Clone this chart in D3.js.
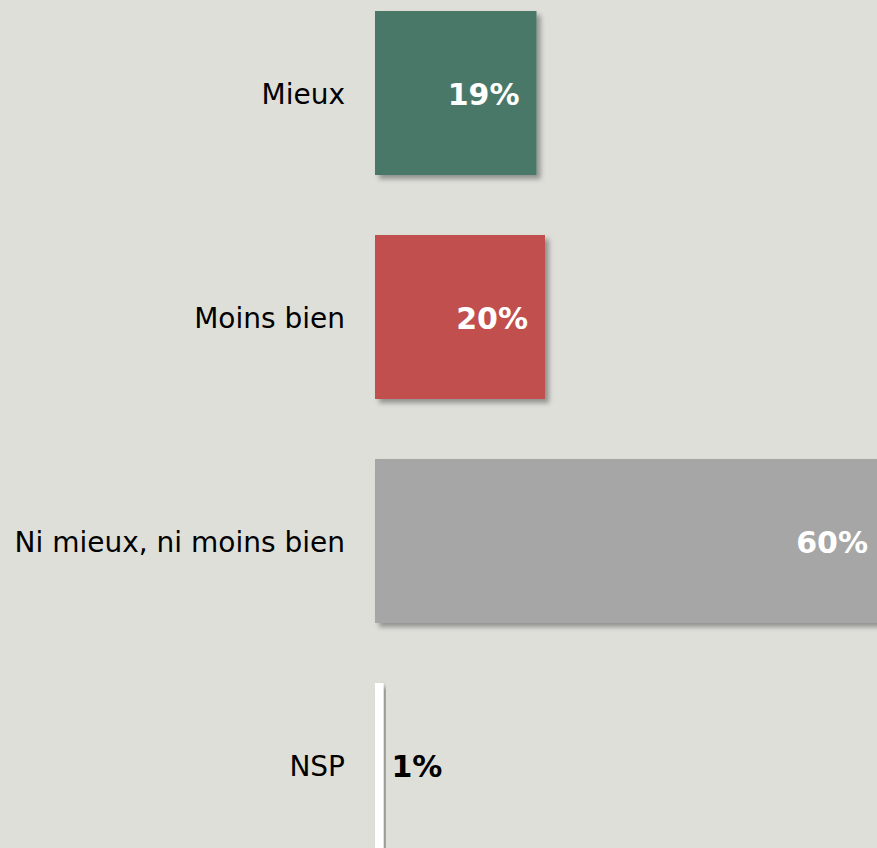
<!DOCTYPE html>
<html lang="fr">
<head>
  <meta charset="UTF-8">
  <title>Mieux / Moins bien</title>
  <script src="https://d3js.org/d3.v7.min.js"></script>
  <style>
    body {
      margin: 0;
      background: #dfdfda;
      overflow: hidden;
    }
    #chart {
      display: block;
    }
    .cat {
      font-family: Tahoma, "DejaVu Sans", sans-serif;
      font-size: 28px;
      fill: #000;
    }
    .val {
      font-family: Tahoma, "DejaVu Sans", sans-serif;
      font-size: 30px;
      font-weight: bold;
    }
  </style>
</head>
<body>
  <svg id="chart" width="877" height="848"></svg>

  <script>
    const categories = ["Mieux", "Moins bien", "Ni mieux, ni moins bien", "NSP"];
    const values = [19, 20, 60, 1];
    const barColors = ["#497869", "#c0504e", "#a6a6a6", "#ffffff"];
    const labelColors = ["#ffffff", "#ffffff", "#ffffff", "#000000"];

    const W = 877, H = 848;
    const svg = d3.select("#chart");

    svg.append("rect")
      .attr("width", W)
      .attr("height", H)
      .attr("fill", "#dfdfda");

    // drop shadow like the office chart
    const defs = svg.append("defs");
    const f = defs.append("filter")
      .attr("id", "shadow")
      .attr("x", "-10%").attr("y", "-10%")
      .attr("width", "130%").attr("height", "130%");
    f.append("feDropShadow")
      .attr("dx", 4).attr("dy", 4)
      .attr("stdDeviation", 2.5)
      .attr("flood-color", "#000")
      .attr("flood-opacity", 0.35);

    const x = d3.scaleLinear()
      .domain([0, 60])
      .range([375, 885]);

    const y = d3.scaleBand()
      .domain(categories)
      .range([-19, 877])
      .paddingInner(60 / 224)
      .paddingOuter(30 / 224);

    const data = categories.map((c, i) => ({ cat: c, v: values[i], color: barColors[i], lc: labelColors[i] }));

    // bars
    svg.selectAll(".bar")
      .data(data)
      .enter()
      .append("rect")
      .attr("class", "bar")
      .attr("x", x(0))
      .attr("y", d => y(d.cat))
      .attr("width", d => x(d.v) - x(0))
      .attr("height", d => d.v < 5 ? y.bandwidth() + 20 : y.bandwidth())
      .attr("fill", d => d.color)
      .attr("filter", "url(#shadow)");

    // category labels
    svg.selectAll(".cat")
      .data(data)
      .enter()
      .append("text")
      .attr("class", "cat")
      .attr("x", 345)
      .attr("y", d => y(d.cat) + y.bandwidth() / 2 + 1)
      .attr("dy", "0.35em")
      .attr("text-anchor", "end")
      .text(d => d.cat);

    // value labels (inside end, or outside for small bars)
    svg.selectAll(".val")
      .data(data)
      .enter()
      .append("text")
      .attr("class", "val")
      .attr("x", d => d.v < 5 ? x(d.v) + 8 : x(d.v) - 17)
      .attr("y", d => y(d.cat) + y.bandwidth() / 2 + 1)
      .attr("dy", "0.35em")
      .attr("text-anchor", d => d.v < 5 ? "start" : "end")
      .attr("fill", d => d.lc)
      .text(d => d.v + "%");
  </script>
</body>
</html>
